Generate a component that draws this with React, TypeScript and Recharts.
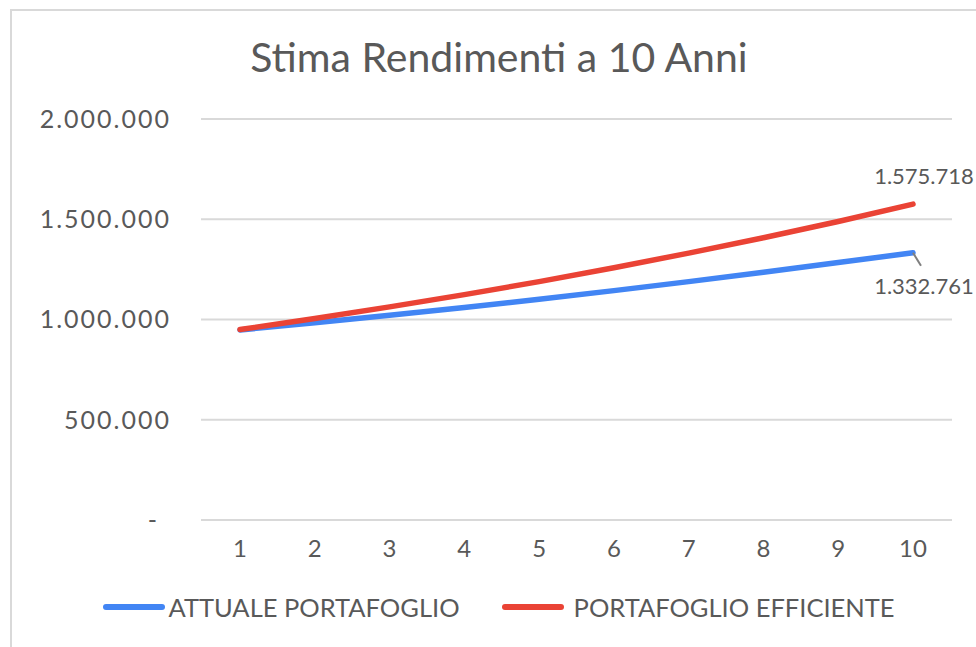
import React from 'react';
import { LineChart, Line, XAxis, YAxis, CartesianGrid, LabelList } from 'recharts';

const title = 'Stima Rendimenti a 10 Anni';
const years = ['1', '2', '3', '4', '5', '6', '7', '8', '9', '10'];
const attuale = [948000, 984000, 1021000, 1060000, 1101000, 1144000, 1189000, 1236000, 1284000, 1332761];
const efficiente = [950000, 1005000, 1063000, 1124000, 1189000, 1258000, 1331000, 1408000, 1489000, 1575718];
const yTicks = [0, 500000, 1000000, 1500000, 2000000];
const seriesNames = ['ATTUALE PORTAFOGLIO', 'PORTAFOGLIO EFFICIENTE'];
const seriesColors = ['#4285F4', '#EA4335'];

const data = years.map((y, i) => ({ year: y, attuale: attuale[i], efficiente: efficiente[i] }));

const FONT = 'Lato, "Noto Sans", sans-serif';
const TXT = '#595959';

const fmt = (v: number) => String(Math.round(v)).replace(/\B(?=(\d{3})+(?!\d))/g, '.');

const YTick = (props: any) => {
  const { x, y, payload } = props;
  const v = payload.value;
  if (v === 0) {
    return (
      <text x={x - 14} y={y} dy="0.35em" textAnchor="end" fill={TXT} fontSize={25} fontFamily={FONT}>
        -
      </text>
    );
  }
  return (
    <text x={x} y={y} dy="0.35em" textAnchor="end" fill={TXT} fontSize={25} fontFamily={FONT} letterSpacing={2}>
      {fmt(v)}
    </text>
  );
};

const XTick = (props: any) => {
  const { x, y, payload } = props;
  return (
    <text x={x} y={y} dy="0.71em" textAnchor="middle" fill={TXT} fontSize={24} fontFamily={FONT}>
      {payload.value}
    </text>
  );
};

const lastIdx = years.length - 1;

const TopLabel = (props: any) => {
  const { x, y, value, index } = props;
  if (index !== lastIdx) return null;
  return (
    <text x={x + 11} y={y - 20} textAnchor="middle" fill={TXT} fontSize={22} fontFamily={FONT}>
      {fmt(value)}
    </text>
  );
};

const BottomLabel = (props: any) => {
  const { x, y, value, index } = props;
  if (index !== lastIdx) return null;
  return (
    <g>
      <line x1={x} y1={y} x2={x + 8} y2={y + 13} stroke="#7f7f7f" strokeWidth={2} />
      <text x={x + 11} y={y + 41} textAnchor="middle" fill={TXT} fontSize={22} fontFamily={FONT}>
        {fmt(value)}
      </text>
    </g>
  );
};

export default function App() {
  return (
    <div
      style={{
        position: 'fixed',
        left: 0,
        top: 0,
        width: 976,
        height: 647,
        overflow: 'hidden',
        background: '#fff',
        fontFamily: FONT,
      }}
    >
      <div
        style={{
          position: 'absolute',
          left: 10,
          top: 9,
          width: 990,
          height: 700,
          border: '2px solid #d9d9d9',
        }}
      />
      <div
        style={{
          position: 'absolute',
          left: 11,
          top: 32,
          width: 976,
          textAlign: 'center',
          fontSize: 41,
          color: TXT,
          fontFamily: FONT,
          lineHeight: '49px',
        }}
      >
        {title}
      </div>
      <div style={{ position: 'absolute', left: 0, top: 0 }}>
        <LineChart width={976} height={647} data={data} margin={{ top: 119, right: 24, bottom: 67, left: 0 }}>
          <CartesianGrid vertical={false} stroke="#d9d9d9" strokeWidth={2} />
          <XAxis
            dataKey="year"
            axisLine={false}
            tickLine={false}
            tickSize={0}
            tickMargin={20}
            height={60}
            padding={{ left: 39, right: 39 }}
            tick={<XTick />}
            interval={0}
          />
          <YAxis
            domain={[0, 2000000]}
            ticks={yTicks}
            axisLine={false}
            tickLine={false}
            tickSize={0}
            tickMargin={30}
            width={201}
            tick={<YTick />}
            interval={0}
          />
          <Line
            type="linear"
            dataKey="attuale"
            stroke={seriesColors[0]}
            strokeWidth={5.5}
            strokeLinecap="round"
            strokeLinejoin="round"
            dot={false}
            isAnimationActive={false}
          >
            <LabelList dataKey="attuale" content={<BottomLabel />} />
          </Line>
          <Line
            type="linear"
            dataKey="efficiente"
            stroke={seriesColors[1]}
            strokeWidth={5.5}
            strokeLinecap="round"
            strokeLinejoin="round"
            dot={false}
            isAnimationActive={false}
          >
            <LabelList dataKey="efficiente" content={<TopLabel />} />
          </Line>
        </LineChart>
      </div>
      <div
        style={{
          position: 'absolute',
          left: 11,
          top: 590,
          width: 976,
          display: 'flex',
          justifyContent: 'center',
          alignItems: 'center',
          height: 34,
        }}
      >
        {seriesNames.map((n, i) => (
          <div key={n} style={{ display: 'flex', alignItems: 'center', marginLeft: i === 0 ? 0 : 42 }}>
            <div
              style={{
                width: 62,
                height: 6,
                borderRadius: 3,
                background: seriesColors[i],
                marginRight: i === 0 ? 3 : 10,
              }}
            />
            <span style={{ fontSize: 25.5, color: TXT, fontFamily: FONT, whiteSpace: 'nowrap' }}>{n}</span>
          </div>
        ))}
      </div>
    </div>
  );
}
